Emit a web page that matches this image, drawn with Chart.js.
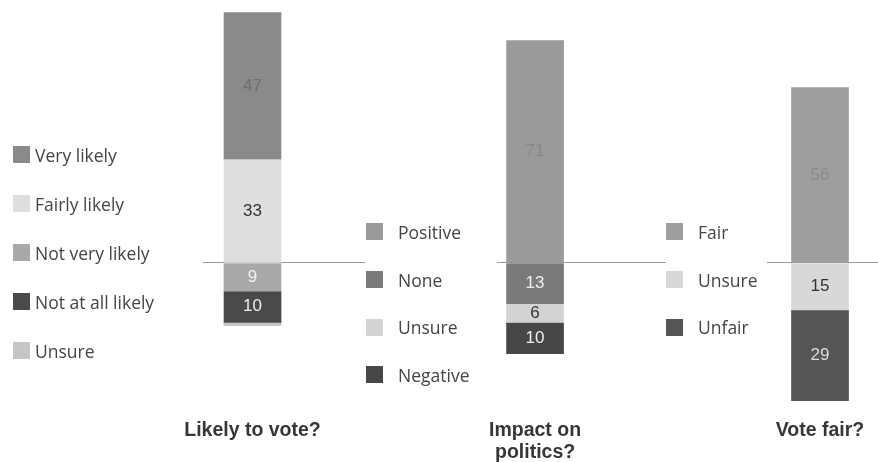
<!DOCTYPE html>
<html>
<head>
<meta charset="utf-8">
<script src="https://cdn.jsdelivr.net/npm/chart.js@4.4.0/dist/chart.umd.min.js"></script>
<style>
body { margin: 0; background: #fff; width: 878px; height: 462px; position: relative; overflow: hidden; }
.plot { position: absolute; top: 0; height: 462px; }
.legend { position: absolute; color: #444; font-family: "Open Sans", sans-serif; font-size: 17.5px; }
.legend div { display: flex; align-items: center; height: 49px; white-space: nowrap; }
.legend span { display: inline-block; width: 17px; height: 17px; margin-right: 5px; }
#l2 div, #l3 div { height: 47.7px; }
#l2 span, #l3 span { margin-right: 15px; }
</style>
</head>
<body>
<div class="plot" style="left:140px;width:240px"><canvas id="c1"></canvas></div>
<div class="plot" style="left:460px;width:220px"><canvas id="c2"></canvas></div>
<div class="plot" style="left:740px;width:138px"><canvas id="c3"></canvas></div>
<div class="legend" id="l1" style="left:13px;top:130px"></div>
<div class="legend" id="l2" style="left:366px;top:208px"></div>
<div class="legend" id="l3" style="left:666px;top:208px"></div>
<script>
// Likely to vote?
var likelyQuestion = ['Likely to vote?'];
var likelyLabels = ['Very likely', 'Fairly likely', 'Not very likely', 'Not at all likely', 'Unsure'];
var likelyValues = [47, 33, -9, -10, -1];
var likelyColors = ['#8a8a8a', '#dedede', '#a9a9a9', '#4a4a4a', '#c6c6c6'];
var likelyText = ['#6e6e6e', '#333333', '#f2f2f2', '#eeeeee', null];

// Impact on politics?
var impactQuestion = ['Impact on', 'politics?'];
var impactLabels = ['Positive', 'None', 'Unsure', 'Negative'];
var impactValues = [71, -13, -6, -10];
var impactColors = ['#9a9a9a', '#7a7a7a', '#d3d3d3', '#474747'];
var impactText = ['#888888', '#eeeeee', '#333333', '#eeeeee'];

// Vote fair?
var fairQuestion = ['Vote fair?'];
var fairLabels = ['Fair', 'Unsure', 'Unfair'];
var fairValues = [56, -15, -29];
var fairColors = ['#9e9e9e', '#d8d8d8', '#555555'];
var fairText = ['#8a8a8a', '#333333', '#dddddd'];

// writes the number in the middle of each segment
var segmentLabels = {
    id: 'segmentLabels',
    afterDatasetsDraw: function(chart) {
        var ctx = chart.ctx;
        ctx.save();
        ctx.font = '17px "Liberation Sans", Arial, sans-serif';
        ctx.textAlign = 'center';
        ctx.textBaseline = 'middle';
        chart.data.datasets.forEach(function(ds, i) {
            if (!ds.textColor) return;
            ctx.fillStyle = ds.textColor;
            chart.getDatasetMeta(i).data.forEach(function(bar, j) {
                ctx.fillText(Math.abs(ds.data[j].y), bar.x, (bar.y + bar.base) / 2);
            });
        });
        ctx.restore();
    }
};

function buildLegend(id, labels, colors) {
    var box = document.getElementById(id);
    for (var i = 0; i < labels.length; i++) {
        var row = document.createElement('div');
        var sw = document.createElement('span');
        sw.style.background = colors[i];
        row.appendChild(sw);
        row.appendChild(document.createTextNode(labels[i]));
        box.appendChild(row);
    }
}

function makePanel(canvasId, question, labels, values, colors, textColors, xMin, xMax, padLeft, padRight) {
    var datasets = [];
    for (var i = 0; i < labels.length; i++) {
        datasets.push({
            label: labels[i],
            data: [{ x: 0, y: values[i] }],
            backgroundColor: colors[i],
            borderWidth: 0,
            barThickness: 57,
            textColor: textColors[i],
            // positive parts stack upward, so the last one listed sits on the axis
            order: values[i] > 0 ? -i : i
        });
    }

    new Chart(document.getElementById(canvasId), {
        type: 'bar',
        data: { datasets: datasets },
        plugins: [segmentLabels],
        options: {
            responsive: true,
            maintainAspectRatio: false,
            animation: false,
            layout: { padding: { left: padLeft, right: padRight, top: 0, bottom: 0 } },
            plugins: { legend: { display: false }, tooltip: { enabled: false } },
            scales: {
                x: {
                    type: 'linear',
                    stacked: true,
                    offset: false,
                    min: xMin,
                    max: xMax,
                    grid: { display: false, drawTicks: false },
                    border: { display: false },
                    afterBuildTicks: function(scale) { scale.ticks = [{ value: 0 }]; },
                    afterFit: function(scale) { scale.height = 50; },
                    ticks: {
                        padding: 7,
                        maxRotation: 0,
                        autoSkip: false,
                        color: '#363636',
                        font: { family: '"Liberation Sans", Arial, sans-serif', size: 19.5, weight: 'bold', lineHeight: 1.15 },
                        callback: function() { return question; }
                    }
                },
                y: {
                    stacked: true,
                    min: -47.6,
                    max: 84,
                    border: { display: false },
                    ticks: { display: false, stepSize: 20 },
                    grid: {
                        drawTicks: false,
                        color: function(c) { return c.tick.value === 0 ? '#9a9a9a' : 'rgba(0,0,0,0)'; }
                    }
                }
            }
        }
    });
}

makePanel('c1', likelyQuestion, likelyLabels, likelyValues, likelyColors, likelyText, -0.5, 1.136, 63, 15);
makePanel('c2', impactQuestion, impactLabels, impactValues, impactColors, impactText, -0.5, 1.72, 37, 14);
makePanel('c3', fairQuestion, fairLabels, fairValues, fairColors, fairText, -0.5, 0.547, 27, 0);

buildLegend('l1', likelyLabels, likelyColors);
buildLegend('l2', impactLabels, impactColors);
buildLegend('l3', fairLabels, fairColors);
</script>
</body>
</html>
